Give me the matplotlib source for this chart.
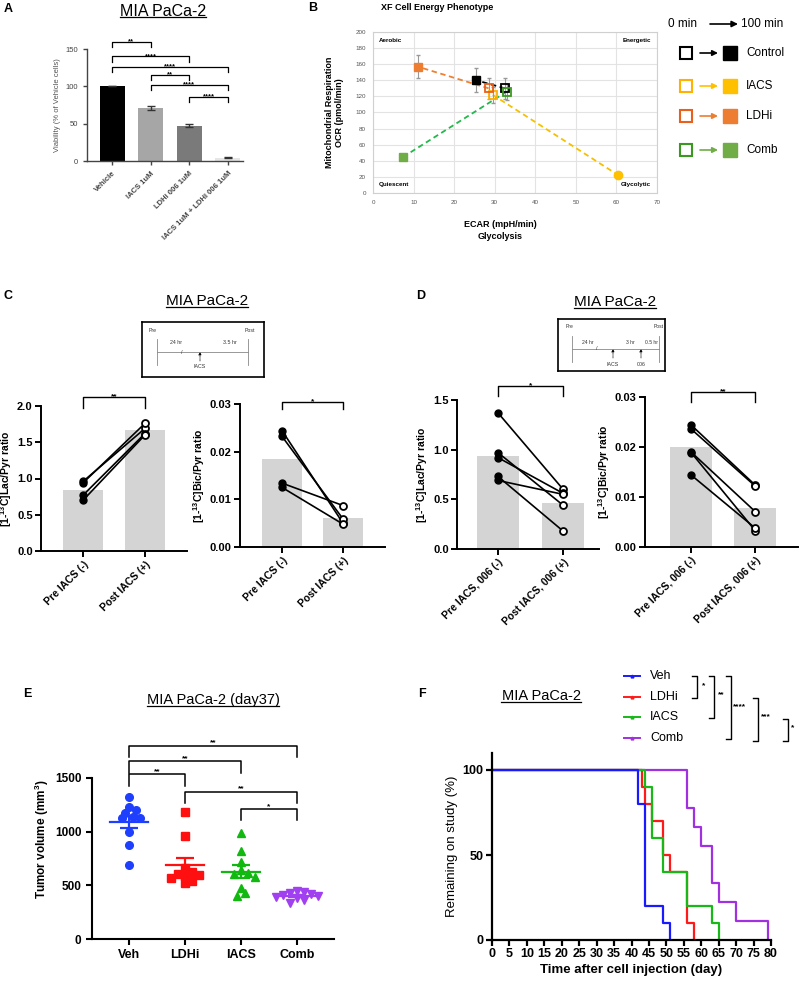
import matplotlib
matplotlib.use('Agg')
import matplotlib.pyplot as plt
from matplotlib.lines import Line2D
import numpy as np

plt.rcParams['font.family'] = ['Liberation Sans', 'DejaVu Sans']
plt.rcParams['mathtext.fontset'] = 'custom'
plt.rcParams['mathtext.rm'] = 'Liberation Sans:bold'
plt.rcParams['mathtext.default'] = 'rm'

# ---------------- data ----------------
# A: viability
a_groups = ['Vehicle', 'IACS 1uM', 'LDHi 006 1uM', 'IACS 1uM + LDHi 006 1uM']
a_values = [100, 71, 47, 4.5]
a_errors = [0, 2.5, 2, 1]
a_colors = ['#000000', '#a6a6a6', '#7a7a7a', '#e6e6e6']
a_sig = [(0, 1, 160, '**'), (0, 2, 140, '****'), (0, 3, 126, '****'),
         (1, 2, 115, '**'), (1, 3, 102, '****'), (2, 3, 86, '****')]

# B: XF energy phenotype (0 min -> 100 min)
b_treat = ['Control', 'IACS', 'LDHi', 'Comb']
b_ecar_0 = [32.5, 29.5, 28.5, 33.0]
b_ocr_0 = [130, 122, 130, 126]
b_ocr_0_err = [13, 10, 13, 10]
b_ecar_100 = [25.5, 60.5, 11.0, 7.5]
b_ocr_100 = [140, 22, 157, 45]
b_ocr_100_err = [15, 3, 14, 2]
b_line_colors = ['#000000', '#F5C000', '#F08030', '#22B84A']
b_open_colors = ['#000000', '#FFB000', '#E8601C', '#3A9A20']
b_fill_colors = ['#000000', '#FFC000', '#ED7D31', '#70AD47']

# C: IACS alone
c_lac_pre = [0.96, 0.94, 0.77, 0.70]
c_lac_post = [1.69, 1.76, 1.62, 1.60]
c_bic_pre = [0.0244, 0.0232, 0.0134, 0.0125]
c_bic_post = [0.0050, 0.0059, 0.0087, 0.0048]
c_labels = ['Pre IACS (-)', 'Post IACS (+)']

# D: IACS + 006
d_lac_pre = [1.37, 0.97, 0.92, 0.73, 0.69]
d_lac_post = [0.60, 0.44, 0.56, 0.18, 0.55]
d_bic_pre = [0.0244, 0.0236, 0.0190, 0.0189, 0.0144]
d_bic_post = [0.0124, 0.0122, 0.0071, 0.0033, 0.0038]
d_labels = ['Pre IACS, 006 (-)', 'Post IACS, 006 (+)']

# E: tumor volume day 37
e_groups = ['Veh', 'LDHi', 'IACS', 'Comb']
e_veh = [1326, 1233, 1202, 1177, 1140, 1128, 1125, 1000, 873, 690]
e_ldhi = [1180, 960, 660, 620, 610, 600, 590, 570, 540, 520]
e_iacs = [990, 823, 720, 640, 615, 610, 580, 478, 426, 400]
e_comb = [450, 440, 430, 420, 410, 400, 390, 380, 360, 340]
e_colors = ['#1f3fff', '#ff1010', '#10b810', '#a040f0']
e_markers = ['o', 's', '^', 'v']
e_sig = [(0, 3, 1800, '**'), (0, 2, 1655, '**'), (0, 1, 1535, '**'),
         (1, 3, 1370, '**'), (2, 3, 1210, '*')]

# F: survival (days of removal from study)
f_groups = ['Veh', 'LDHi', 'IACS', 'Comb']
f_veh = [42, 42, 44, 44, 44, 44, 44, 44, 49, 51]
f_ldhi = [43, 44, 46, 49, 49, 51, 56, 56, 56, 58]
f_iacs = [44, 46, 46, 46, 49, 49, 56, 56, 63, 65]
f_comb = [56, 56, 58, 60, 63, 63, 65, 70, 79]
f_colors = ['#1a1aff', '#ff1a1a', '#18b818', '#a030e0']

# ---------------- helpers ----------------
W, H = 800, 989
fig = plt.figure(figsize=(8, 9.89), dpi=100)


def px_axes(l, t, r, b):
    return fig.add_axes([l / W, 1 - b / H, (r - l) / W, (b - t) / H])


def ftext(x, y, s, **kw):
    return fig.text(x / W, 1 - y / H, s, **kw)


underlined = []


def utitle(x, y, s, size):
    underlined.append(ftext(x, y, s, ha='center', va='center', fontsize=size))


def prism(ax, lw=1.5, color='k'):
    for s in ['top', 'right']:
        ax.spines[s].set_visible(False)
    for s in ['left', 'bottom']:
        ax.spines[s].set_linewidth(lw)
        ax.spines[s].set_color(color)
    ax.tick_params(direction='out', length=4, width=lw, color=color)


def bracket(ax, x1, x2, y, drop, label, fs=6, lw=1.0, off=-1):
    ax.plot([x1, x1, x2, x2], [y - drop, y, y, y - drop], color='k', lw=lw,
            clip_on=False)
    ax.annotate(label, xy=((x1 + x2) / 2, y), xytext=(0, off),
                textcoords='offset points', ha='center', va='baseline',
                fontsize=fs, fontweight='bold', annotation_clip=False)


def swarm(vals, xscale, yscale, diam):
    placed, offs = [], []
    cands = [0]
    for i in range(1, 12):
        cands += [i * 0.55, -i * 0.55]
    for v in vals:
        for c in cands:
            xo = c * diam / xscale
            if all(np.hypot((xo - px) * xscale, (v - py) * yscale) >= diam
                   for px, py in placed):
                break
        placed.append((xo, v))
        offs.append(xo)
    return np.array(offs)


def km(days):
    n = len(days)
    t, c = np.unique(days, return_counts=True)
    xs, ys, s, risk = [0], [100.0], 100.0, n
    for ti, ci in zip(t, c):
        s *= (risk - ci) / risk
        risk -= ci
        xs.append(ti)
        ys.append(s)
    return xs, ys


# ---------------- panel letters ----------------
for lab, x, y in [('A', 8, 9), ('B', 313, 8), ('C', 8, 296), ('D', 421, 296),
                  ('E', 27, 694), ('F', 422, 694)]:
    ftext(x, y, lab, ha='center', va='center', fontsize=9, fontweight='bold')

# ---------------- A ----------------
utitle(163, 11, 'MIA PaCa-2', 11.5)
ax = px_axes(87, 49, 243, 161)
xa = np.arange(len(a_values))
ax.bar(xa, a_values, width=0.65, color=a_colors, yerr=a_errors,
       error_kw=dict(ecolor='#333', capsize=3, elinewidth=1, capthick=1))
ax.set_xlim(-0.65, 3.39)
ax.set_ylim(0, 150)
ax.set_yticks([0, 50, 100, 150])
prism(ax, lw=1.0, color='#444')
ax.tick_params(labelsize=5.5, labelcolor='#444', length=3)
ax.set_xticks(xa)
ax.set_xticklabels(a_groups, rotation=45, ha='right', rotation_mode='anchor',
                   fontsize=5.5, fontweight='bold', color='#444')
ax.set_ylabel('Viability (% of Vehicle cells)', fontsize=5.5, color='#555',
              labelpad=3)
for i, j, y, s in a_sig:
    bracket(ax, i, j, y, 7, s, fs=5.5, lw=0.9)

# ---------------- B ----------------
ftext(437, 7, 'XF Cell Energy Phenotype', ha='center', va='center',
      fontsize=6.5, fontweight='bold')
ax = px_axes(373, 32, 657, 193)
ax.set_xlim(0, 70)
ax.set_ylim(0, 200)
ax.set_xticks(range(0, 71, 10))
ax.set_yticks(range(0, 201, 20))
ax.grid(color='#e3e3e3', lw=0.8)
ax.set_axisbelow(True)
for s in ax.spines.values():
    s.set_color('#d0d0d0')
ax.tick_params(length=0, labelsize=4.5, labelcolor='#555', pad=5)
for i in range(len(b_treat)):
    ax.plot([b_ecar_0[i], b_ecar_100[i]], [b_ocr_0[i], b_ocr_100[i]],
            color=b_line_colors[i], lw=1.3, dashes=(3, 2), zorder=2)
ax.errorbar(b_ecar_0, b_ocr_0, yerr=b_ocr_0_err, fmt='none', ecolor='#999',
            elinewidth=0.8, capsize=1.5, zorder=3)
ax.errorbar(b_ecar_100, b_ocr_100, yerr=b_ocr_100_err, fmt='none',
            ecolor='#999', elinewidth=0.8, capsize=1.5, zorder=3)
for i in range(len(b_treat)):
    ax.plot(b_ecar_0[i], b_ocr_0[i], marker='s', ms=6, mfc='none',
            mec=b_open_colors[i], mew=1.3, zorder=4)
    ax.plot(b_ecar_100[i], b_ocr_100[i], marker='o' if b_treat[i] == 'IACS' else 's',
            ms=6, color=b_fill_colors[i], zorder=4)
ax.text(1.5, 190, 'Aerobic', fontsize=4.5, fontweight='bold', va='center')
ax.text(68.5, 190, 'Energetic', fontsize=4.5, fontweight='bold', va='center',
        ha='right')
ax.text(1.5, 10, 'Quiescent', fontsize=4.5, fontweight='bold', va='center')
ax.text(68.5, 10, 'Glycolytic', fontsize=4.5, fontweight='bold', va='center',
        ha='right')
ax.set_ylabel('Mitochondrial Respiration\nOCR (pmol/min)', fontsize=6.5,
              fontweight='bold', labelpad=8)
ftext(500, 225, 'ECAR (mpH/min)', ha='center', va='center', fontsize=6.5,
      fontweight='bold')
ftext(500, 237, 'Glycolysis', ha='center', va='center', fontsize=6.5,
      fontweight='bold')

# B legend
lg = px_axes(660, 0, 800, 170)
lg.set_xlim(660, 800)
lg.set_ylim(170, 0)
lg.axis('off')
lg.text(668, 24, '0 min', va='center', ha='left', fontsize=8.5)
lg.annotate('', xy=(738, 24), xytext=(710, 24),
            arrowprops=dict(arrowstyle='-|>', color='k', lw=1.2,
                            mutation_scale=9, shrinkA=0, shrinkB=0))
lg.text(741, 24, '100 min', va='center', ha='left', fontsize=8.5)
for i, y in enumerate([53, 86, 116, 150]):
    lg.plot(686, y, marker='s', ms=8.5, mfc='white', mec=b_open_colors[i],
            mew=1.5)
    lg.annotate('', xy=(718, y), xytext=(700, y),
                arrowprops=dict(arrowstyle='-|>', color=b_fill_colors[i],
                                lw=1.2, mutation_scale=8, shrinkA=0, shrinkB=0))
    lg.plot(730, y, marker='s', ms=9.5, color=b_fill_colors[i])
    lg.text(746, y, b_treat[i], va='center', ha='left', fontsize=8.5)


# ---------------- C / D ----------------
def paired(box, xlim, pre, post, ymax, yticks, fmt, labels, ylabel, sig,
           sig_top, sig_drop):
    l, t, r, b = box
    ax = px_axes(l, t, r, b)
    ax.bar([0, 1], [np.mean(pre), np.mean(post)], width=0.65,
           color='#d4d4d4', zorder=1)
    for p, q in zip(pre, post):
        ax.plot([0, 1], [p, q], color='k', lw=1.2, zorder=2)
    ax.plot(np.zeros(len(pre)), pre, 'o', ms=5, mfc='k', mec='k', zorder=3)
    ax.plot(np.ones(len(post)), post, 'o', ms=5, mfc='white', mec='k',
            mew=1.3, zorder=3)
    ax.set_xlim(*xlim)
    ax.set_ylim(0, ymax)
    ax.set_yticks(yticks)
    ax.set_yticklabels([fmt.format(v) for v in yticks], fontsize=8,
                       fontweight='bold')
    ax.set_xticks([0, 1])
    ax.set_xticklabels(labels, rotation=45, ha='right', rotation_mode='anchor',
                       fontsize=7.5, fontweight='bold')
    prism(ax, lw=1.4)
    ax.tick_params(pad=2)
    ax.set_ylabel(ylabel, fontsize=7.5, fontweight='bold', labelpad=2)
    bracket(ax, 0, 1, sig_top, sig_drop, sig, fs=6, lw=1.0)
    return ax


def inset_box(box):
    l, t, r, b = box
    ax = px_axes(l, t, r, b)
    ax.set_xlim(l, r)
    ax.set_ylim(b, t)
    ax.set_xticks([])
    ax.set_yticks([])
    for s in ax.spines.values():
        s.set_linewidth(1.2)
    return ax


def tick_arrow(ax, x, y0, y1, label, ly):
    ax.annotate('', xy=(x, y0), xytext=(x, y1),
                arrowprops=dict(arrowstyle='-|>', color='k', lw=0.5,
                                ls=(0, (1, 1)), mutation_scale=4,
                                shrinkA=0, shrinkB=0))
    ax.text(x, ly, label, ha='center', va='center', fontsize=3.8, color='#333')


# C
utitle(207, 301, 'MIA PaCa-2', 11)
bx = inset_box((142, 322, 264, 377))
bx.text(149, 330, 'Pre', fontsize=3.8, va='center', color='#333')
bx.text(255, 330, 'Post', fontsize=3.8, va='center', ha='right', color='#333')
for xv in [157, 248]:
    bx.plot([xv, xv], [339, 365], color='#888', lw=0.6)
bx.plot([157, 248], [352, 352], color='#888', lw=0.6)
bx.text(176, 343, '24 hr', fontsize=3.8, ha='center', va='center', color='#333')
bx.text(230, 343, '3.5 hr', fontsize=3.8, ha='center', va='center', color='#333')
bx.text(182, 352, '/', fontsize=4, ha='center', va='center', color='#333')
tick_arrow(bx, 200, 352, 361, 'IACS', 367)

paired((41, 406, 187, 551), (-0.68, 1.68), c_lac_pre, c_lac_post, 2.0,
       [0, 0.5, 1.0, 1.5, 2.0], '{:.1f}', c_labels,
       '[1-$^{13}$C]Lac/Pyr ratio', '**', 2.12, 0.15)
paired((240, 404, 385, 547), (-0.69, 1.69), c_bic_pre, c_bic_post, 0.03,
       [0, 0.01, 0.02, 0.03], '{:.2f}', c_labels,
       '[1-$^{13}$C]Bic/Pyr ratio', '*', 0.0304, 0.0015)

# D
utitle(615, 302, 'MIA PaCa-2', 11)
bx = inset_box((558, 319, 665, 371))
bx.text(566, 327, 'Pre', fontsize=3.6, va='center', color='#333')
bx.text(664, 327, 'Post', fontsize=3.6, va='center', ha='right', color='#333')
for xv in [572, 659]:
    bx.plot([xv, xv], [336, 362], color='#888', lw=0.6)
bx.plot([572, 659], [349, 349], color='#888', lw=0.6)
bx.text(588, 342, '24 hr', fontsize=3.6, ha='center', va='center', color='#333')
bx.text(630, 342, '3 hr', fontsize=3.6, ha='center', va='center', color='#333')
bx.text(652, 342, '0.5 hr', fontsize=3.6, ha='center', va='center', color='#333')
bx.text(597, 349, '/', fontsize=4, ha='center', va='center', color='#333')
tick_arrow(bx, 613, 349, 358, 'IACS', 364)
tick_arrow(bx, 641, 349, 358, '006', 364)

paired((457, 400, 599, 549), (-0.63, 1.55), d_lac_pre, d_lac_post, 1.5,
       [0, 0.5, 1.0, 1.5], '{:.1f}', d_labels,
       '[1-$^{13}$C]Lac/Pyr ratio', '*', 1.64, 0.10)
paired((645, 397, 798, 547), (-0.72, 1.67), d_bic_pre, d_bic_post, 0.03,
       [0, 0.01, 0.02, 0.03], '{:.2f}', d_labels,
       '[1-$^{13}$C]Bic/Pyr ratio', '**', 0.031, 0.002)

# ---------------- E ----------------
utitle(213, 700, 'MIA PaCa-2 (day37)', 10.5)
ax = px_axes(92, 740, 334, 939)
ax.set_xlim(-0.66, 3.66)
ax.set_ylim(0, 1854)
xs_px = 242 / 4.32
ys_px = 199 / 1854
for i, vals in enumerate([e_veh, e_ldhi, e_iacs, e_comb]):
    vals = np.array(vals, dtype=float)
    offs = swarm(vals, xs_px, ys_px, 6.5)
    ax.plot(i + offs, vals, e_markers[i], ms=5.5, color=e_colors[i],
            ls='none', zorder=3)
    m = vals.mean()
    sem = vals.std(ddof=1) / np.sqrt(len(vals))
    ax.plot([i - 0.34, i + 0.34], [m, m], color=e_colors[i], lw=1.6, zorder=4)
    ax.errorbar(i, m, yerr=sem, fmt='none', ecolor=e_colors[i], elinewidth=1.6,
                capsize=6.5, capthick=1.6, zorder=4)
prism(ax, lw=1.5)
ax.spines['left'].set_bounds(0, 1500)
ax.set_yticks([0, 500, 1000, 1500])
ax.set_xticks(range(4))
ax.set_xticklabels(e_groups, fontsize=9, fontweight='bold')
ax.tick_params(axis='y', labelsize=8.5)
for lab in ax.get_yticklabels():
    lab.set_fontweight('bold')
ax.set_ylabel('Tumor volume (mm$^{3}$)', fontsize=8.5, fontweight='bold',
              labelpad=3)
for i, j, y, s in e_sig:
    bracket(ax, i, j, y, 105, s, fs=6, lw=1.1, off=1)

# ---------------- F ----------------
utitle(541, 696, 'MIA PaCa-2', 10.5)
ax = px_axes(492, 753, 771, 940)
order = [3, 1, 2, 0]
f_data = [f_veh, f_ldhi, f_iacs, f_comb]
for k in order:
    xs, ys = km(f_data[k])
    ax.step(xs, ys, where='post', color=f_colors[k], lw=1.6)
ax.set_xlim(0, 80)
ax.set_ylim(0, 110)
ax.set_xticks(range(0, 81, 5))
ax.set_yticks([0, 50, 100])
prism(ax, lw=1.6)
ax.tick_params(labelsize=9, pad=2)
for lab in ax.get_xticklabels() + ax.get_yticklabels():
    lab.set_fontweight('bold')
ax.set_xlabel('Time after cell injection (day)', fontsize=9.5,
              fontweight='bold', labelpad=3)
ax.set_ylabel('Remaining on study (%)', fontsize=9.5, labelpad=3)

# F legend and comparisons
fl = px_axes(600, 660, 800, 750)
fl.set_xlim(600, 800)
fl.set_ylim(750, 660)
fl.axis('off')
for i, y in enumerate([676, 697, 717, 738]):
    fl.plot([624, 640], [y, y], color=f_colors[i], lw=1.4)
    fl.plot(632, y - 0.5, marker='^', ms=2, color=f_colors[i])
    fl.text(650, y, f_groups[i], va='center', ha='left', fontsize=9)
for xv, y1, y2, s, tx, ty in [(697, 676, 698, '*', 702, 686),
                              (714, 676, 718, '**', 718, 695),
                              (731, 676, 739, '****', 733, 707),
                              (758, 698, 741, '***', 761, 717),
                              (788, 719, 741, '*', 791, 728)]:
    fl.plot([xv - 5, xv, xv, xv - 5], [y1, y1, y2, y2], color='k', lw=1.0,
            clip_on=False)
    fl.text(tx, ty, s, fontsize=6, fontweight='bold', va='center', ha='left',
            clip_on=False)

# ---------------- underlines ----------------
fig.canvas.draw()
for t in underlined:
    bb = t.get_window_extent()
    fig.add_artist(Line2D([bb.x0 / W, bb.x1 / W], [(bb.y0 + 1.5) / H] * 2,
                          color='k', lw=0.9))

fig.savefig('out.png', dpi=100)
